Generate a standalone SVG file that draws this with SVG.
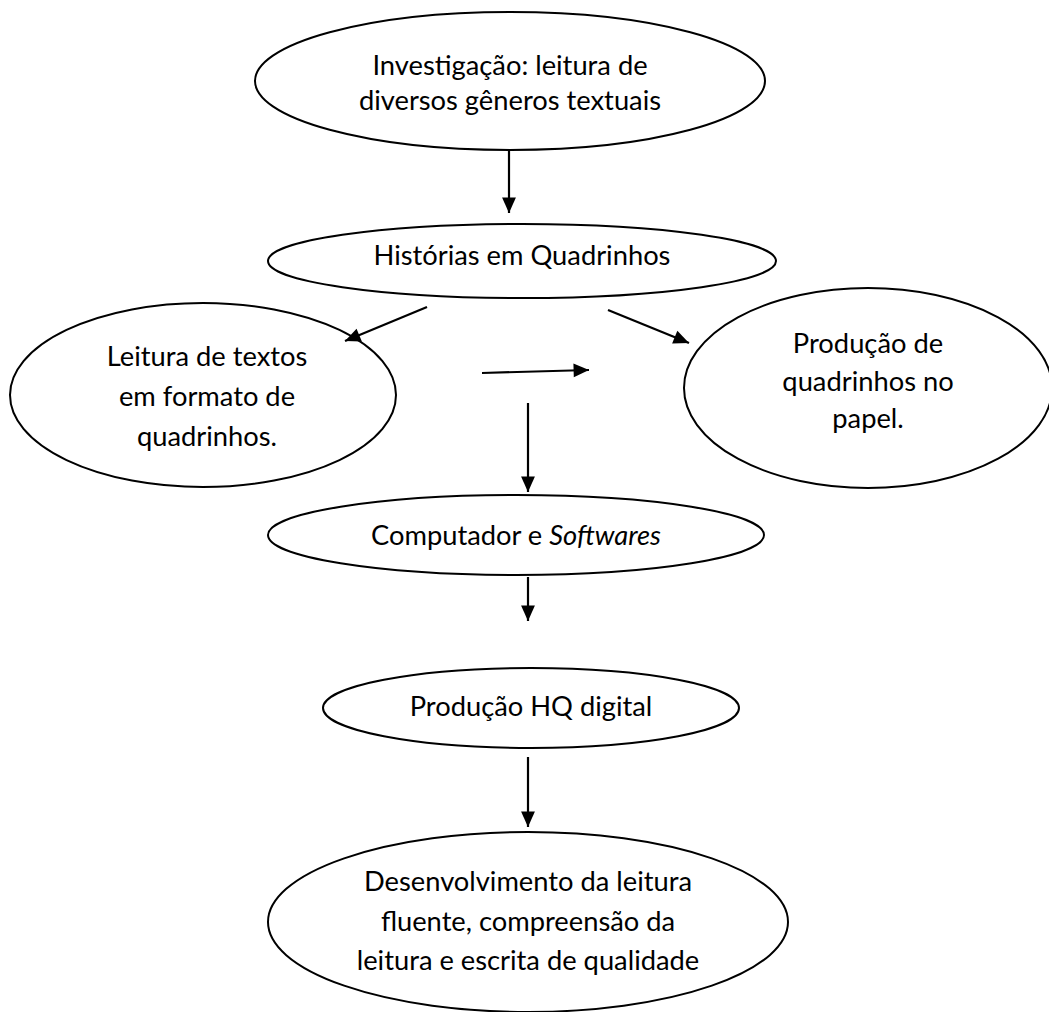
<svg xmlns="http://www.w3.org/2000/svg" width="1049" height="1012" viewBox="0 0 1049 1012">
<defs>
<marker id="ah" viewBox="0 0 10 10" refX="10" refY="5" markerWidth="7.5" markerHeight="7" markerUnits="strokeWidth" orient="auto">
<path d="M0,0.5 L10,5 L0,9.5 z" fill="#000"/>
</marker>
</defs>
<style>
.n{fill:#fff;stroke:#000;stroke-width:2}
.t{font-family:Lato,"Open Sans","Liberation Sans",sans-serif;font-size:27.3px;fill:#000;text-anchor:middle}
.c line{stroke:#000;stroke-width:2.2;marker-end:url(#ah)}
</style>
<rect width="1049" height="1012" fill="#fff"/>
<g id="n1"><ellipse class="n" cx="510" cy="81" rx="255" ry="69"/>
<text class="t" x="510" y="75">Investigação: leitura de</text>
<text class="t" x="510" y="110">diversos gêneros textuais</text></g>
<g id="n2"><ellipse class="n" cx="522" cy="261" rx="254" ry="37"/>
<text class="t" x="522" y="265">Histórias em Quadrinhos</text></g>
<g id="n3"><ellipse class="n" cx="203" cy="395" rx="193" ry="92"/>
<text class="t" x="207" y="366">Leitura de textos</text>
<text class="t" x="207" y="406">em formato de</text>
<text class="t" x="207" y="446">quadrinhos.</text></g>
<g id="n4"><ellipse class="n" cx="868" cy="388" rx="184" ry="100"/>
<text class="t" x="868" y="353">Produção de</text>
<text class="t" x="868" y="391">quadrinhos no</text>
<text class="t" x="868" y="428">papel.</text></g>
<g id="n5"><ellipse class="n" cx="516" cy="535" rx="248" ry="40"/>
<text class="t" x="516" y="545">Computador e <tspan font-style="italic">Softwares</tspan></text></g>
<g id="n6"><ellipse class="n" cx="531" cy="708" rx="208" ry="40"/>
<text class="t" x="531" y="716">Produção HQ digital</text></g>
<g id="n7"><ellipse class="n" cx="528" cy="922" rx="260" ry="90"/>
<text class="t" x="528" y="891">Desenvolvimento da leitura</text>
<text class="t" x="528" y="931">fluente, compreensão da</text>
<text class="t" x="528" y="970">leitura e escrita de qualidade</text></g>
<g class="c">
<line x1="509" y1="150" x2="509" y2="213"/>
<line x1="427" y1="307" x2="345" y2="341"/>
<line x1="608" y1="310" x2="689" y2="343"/>
<line x1="482" y1="373" x2="589" y2="370"/>
<line x1="528" y1="403" x2="528" y2="492"/>
<line x1="528" y1="577" x2="528" y2="621"/>
<line x1="528" y1="757" x2="528" y2="827"/>
</g>
</svg>
